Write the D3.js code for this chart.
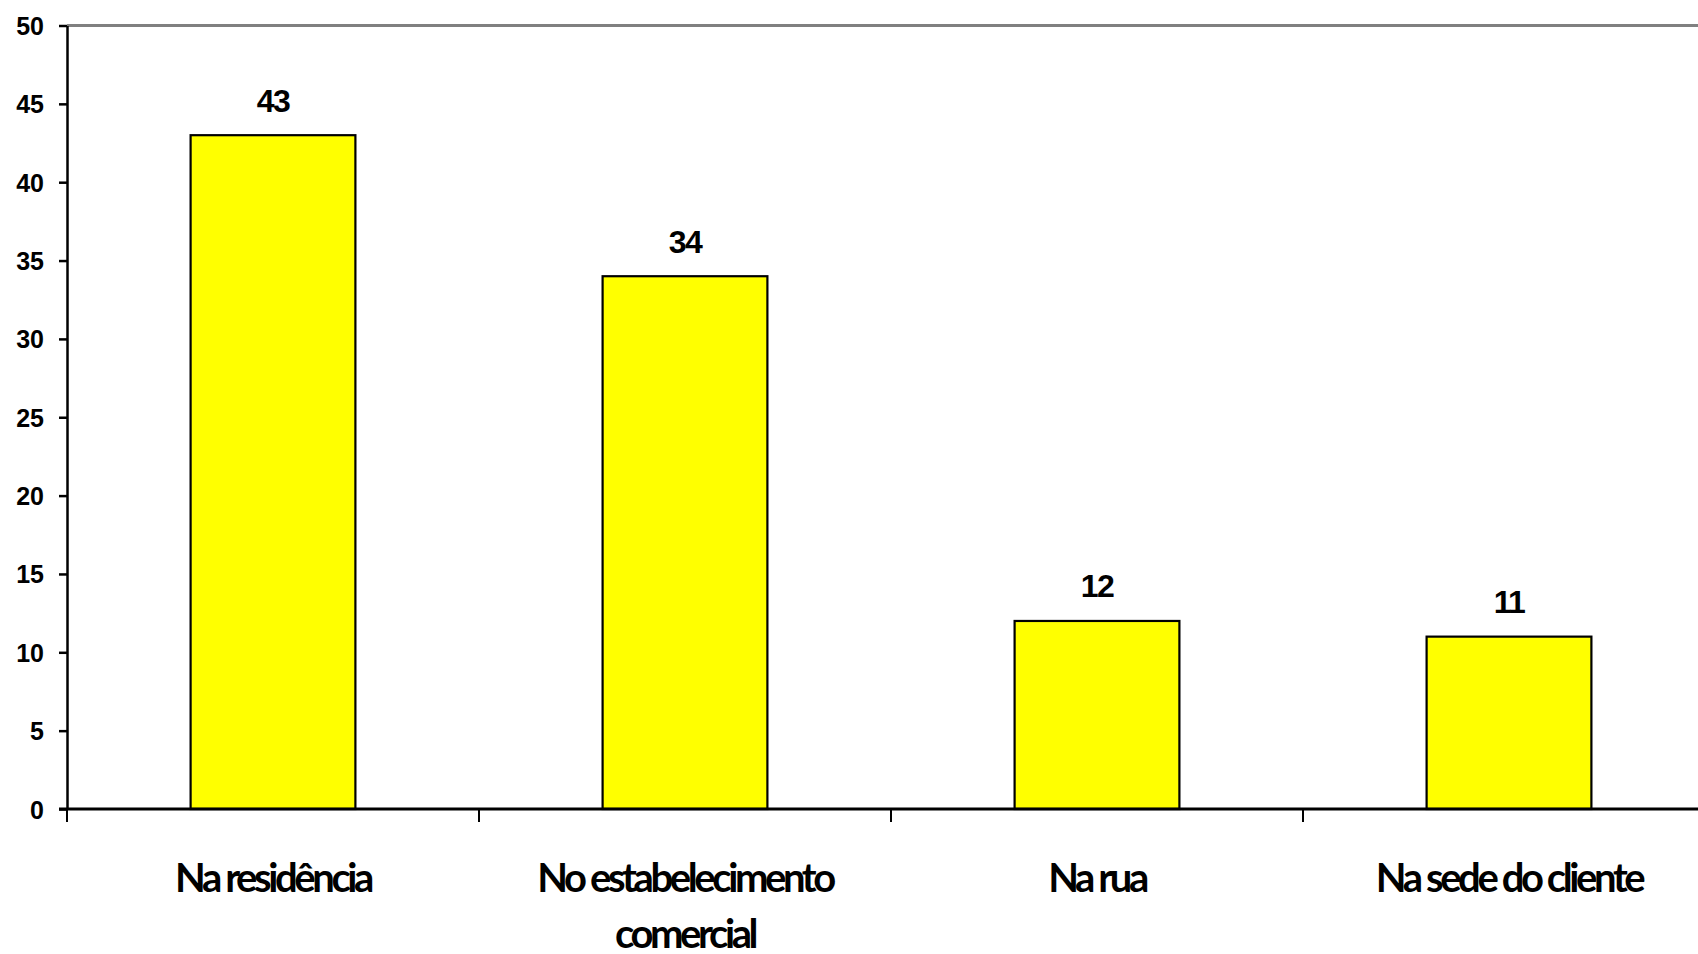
<!DOCTYPE html>
<html>
<head>
<meta charset="utf-8">
<script src="https://cdn.jsdelivr.net/npm/d3@7"></script>
<style>
  html, body { margin: 0; padding: 0; background: #ffffff; }
  svg { display: block; }
</style>
</head>
<body>
<svg id="chart" width="1698" height="954"></svg>
<script>
// Local onde ocorreu o atendimento (%)
const categories = ["Na residência", "No estabelecimento comercial", "Na rua", "Na sede do cliente"];
const values = [43, 34, 12, 11];
const yTicks = [0, 5, 10, 15, 20, 25, 30, 35, 40, 45, 50];

const svg = d3.select("#chart");
const plot = { left: 67, right: 1715, top: 25.5, bottom: 809 };

const y = d3.scaleLinear().domain([0, 50]).range([plot.bottom, plot.top]);
const x = d3.scaleBand().domain(categories)
  .range([plot.left, plot.right])
  .paddingInner(0.6).paddingOuter(0.3);
// category slots (for the boundary tick marks)
const slot = d3.scaleBand().domain(categories).range([plot.left, plot.right]).padding(0);

// top gridline at the maximum
svg.append("line")
  .attr("x1", plot.left).attr("x2", plot.right)
  .attr("y1", y(50)).attr("y2", y(50))
  .attr("stroke", "#808080").attr("stroke-width", 3);

// bars
svg.append("g").selectAll("rect").data(categories).join("rect")
  .attr("x", d => x(d))
  .attr("y", (d, i) => y(values[i]))
  .attr("width", x.bandwidth())
  .attr("height", (d, i) => y(0) - y(values[i]))
  .attr("fill", "#ffff00")
  .attr("stroke", "#000")
  .attr("stroke-width", 2.2);

// value labels
svg.append("g").selectAll("text").data(categories).join("text")
  .attr("x", d => x(d) + x.bandwidth() / 2)
  .attr("y", (d, i) => y(values[i]) - 23.5)
  .attr("text-anchor", "middle")
  .attr("font-family", "'Liberation Sans', Arial, sans-serif")
  .attr("font-weight", 700)
  .attr("font-size", 32)
  .attr("letter-spacing", -1.6)
  .text((d, i) => values[i]);

// y axis
const yAxis = d3.axisLeft(y).tickValues(yTicks).tickSize(8).tickSizeOuter(0).tickPadding(15);
const gy = svg.append("g").attr("transform", `translate(${plot.left},0)`).call(yAxis);
gy.select(".domain").attr("stroke", "#000").attr("stroke-width", 2.5);
gy.selectAll(".tick line").attr("stroke", "#000").attr("stroke-width", 2.5);
gy.selectAll(".tick text")
  .attr("font-family", "'Liberation Sans', Arial, sans-serif")
  .attr("font-weight", 700)
  .attr("font-size", 25)
  .attr("fill", "#000")
  .attr("dy", "0.36em");

// x axis baseline
svg.append("line")
  .attr("x1", plot.left - 8).attr("x2", plot.right)
  .attr("y1", y(0)).attr("y2", y(0))
  .attr("stroke", "#000").attr("stroke-width", 3);

// boundary tick marks between categories
const bounds = categories.map(d => slot(d)).concat([plot.right]);
svg.append("g").selectAll("line").data(bounds).join("line")
  .attr("x1", d => d).attr("x2", d => d)
  .attr("y1", y(0)).attr("y2", y(0) + 13)
  .attr("stroke", "#000").attr("stroke-width", 2);

// category labels, wrapped to the slot width
const labelFont = { family: "Lato, 'Open Sans', sans-serif", size: 40, spacing: -3.4 };
const maxLabelWidth = slot.bandwidth() * 0.8;
const labels = svg.append("g").selectAll("text").data(categories).join("text")
  .attr("x", d => x(d) + x.bandwidth() / 2)
  .attr("y", y(0) + 83)
  .attr("text-anchor", "middle")
  .attr("font-family", labelFont.family)
  .attr("font-weight", 700)
  .attr("font-size", labelFont.size)
  .attr("letter-spacing", labelFont.spacing)
  .attr("fill", "#000");

labels.each(function(d) {
  const text = d3.select(this);
  const cx = +text.attr("x");
  const words = d.split(" ");
  let line = [];
  let tspan = text.append("tspan").attr("x", cx).attr("dy", 0);
  for (const w of words) {
    line.push(w);
    tspan.text(line.join(" "));
    if (tspan.node().getComputedTextLength() > maxLabelWidth && line.length > 1) {
      line.pop();
      tspan.text(line.join(" "));
      line = [w];
      tspan = text.append("tspan").attr("x", cx).attr("dy", 55.5).text(w);
    }
  }
});
</script>
</body>
</html>
